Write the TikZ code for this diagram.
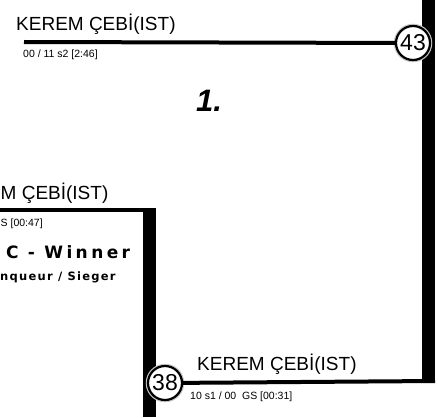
\documentclass[tikz,border=0pt]{standalone}
\usepackage{fontspec}
\setmainfont{Liberation Sans}
\newfontfamily\winfont[LetterSpace=20]{DejaVu Sans}
\newfontfamily\subfont[LetterSpace=11]{DejaVu Sans}
\usetikzlibrary{positioning}
\tikzset{
	seed/.style={circle,draw,line width=2.2pt,fill=white,inner sep=0pt,minimum size=34pt,font=\fontsize{23}{23}\selectfont,
		preaction={draw=gray!45,line width=4.5pt}},
	player/.style={anchor=base west,inner sep=0pt,font=\fontsize{19}{19}\selectfont},
	result/.style={anchor=base west,inner sep=0pt,font=\fontsize{10.5}{10.5}\selectfont},
	bar/.style={line width=13pt},
	pline/.style={line width=4pt}
}
\begin{document}
\begin{tikzpicture} [x=1pt,y=-1pt]
			\useasboundingbox (0,0) rectangle (438,417);
			
			\coordinate (rtop) at (428.5,0);
			\coordinate (rbot) at (428.5,382);
			\coordinate (rcorner) at (435,381);
			\coordinate (tstart) at (24,42);
			\coordinate (mleft) at (0,210);
			\coordinate (mcorner) at (156,210);
			\coordinate (mtop) at (149.5,208);
			\coordinate (mbot) at (149.5,417);
			
			\draw[bar] (rtop) -- (rbot);
			\draw[bar] (mtop) -- (mbot);
			\draw[pline] (mleft) -- (mcorner);
			
			\node[seed] (c43) at (413,43) {43};
			\node[seed] (c38) at (165,383) {38};
			\draw[pline] (tstart) -- (c43);
			\draw[pline] (c38) -- (rcorner);
			
			\node[player] (ptop) at (16,31) {KEREM ÇEBİ(IST)};
			\node[result] (rtopres) at (23,58) {00 / 11 s2 [2:46]};
			\node[anchor=base west,inner sep=0pt,font=\fontsize{31}{31}\selectfont\bfseries\itshape] (rank) at (196,111) {1.};
			
			\node[player] (pmid) at (0.5,199) {M ÇEBİ(IST)};
			\node[result] (rmidres) at (0.5,226) {S [00:47]};
			\node[anchor=base west,inner sep=0pt,font=\winfont\fontsize{17}{17}\selectfont\bfseries] (win) at (6,258) {C - Winner};
			\node[anchor=base west,inner sep=0pt,font=\subfont\fontsize{11.5}{11.5}\selectfont\bfseries] (win2) at (0,280) {nqueur / Sieger};
			
			\node[player] (pbot) at (197,370) {KEREM ÇEBİ(IST)};
			\node[result] (rbotres) at (190,399) {10 s1 / 00 \ GS [00:31]};
\end{tikzpicture}
\end{document}
